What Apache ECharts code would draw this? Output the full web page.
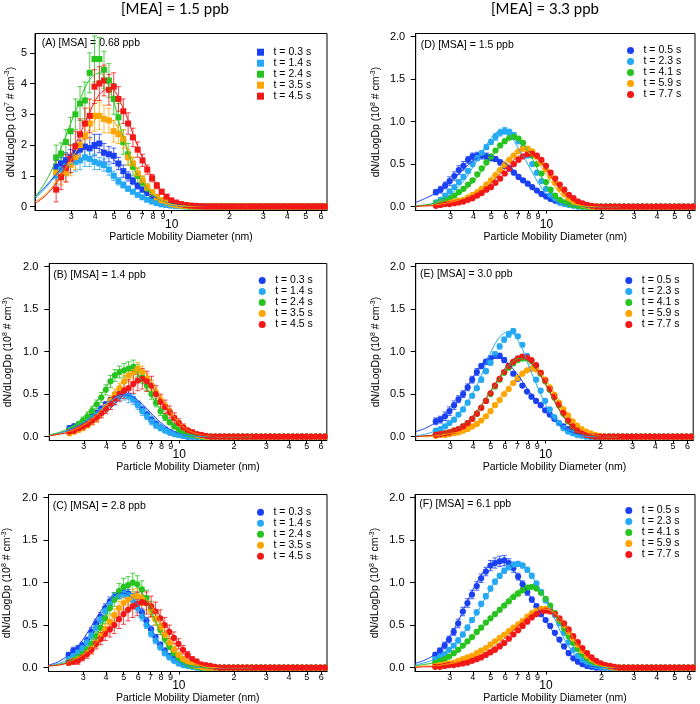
<!DOCTYPE html>
<html><head><meta charset="utf-8">
<script src="https://cdn.jsdelivr.net/npm/echarts@6/dist/echarts.min.js"></script>
<style>html,body{margin:0;padding:0;background:#fff}#c{width:700px;height:704px}</style>
</head><body><div id="c"></div>
<script>
// ---------- shared axes / categories ----------
const diam = [2.50,2.65,2.81,2.97,3.15,3.33,3.53,3.74,3.96,4.20,4.44,4.71,4.99,5.28,5.60,5.93,6.28,6.65,7.05,7.46,7.91,8.37,8.87,9.40,9.95,10.54,11.17,11.83,12.53,13.27,14.06,14.89,15.77,16.71,17.70,18.75,19.86,21.04,22.28,23.60,25.00,26.48,28.05,29.71,31.47,33.34,35.31,37.41,39.62,41.97,44.46,47.09,49.88,52.84,55.97,59.29,62.80];
const fitDiam = [1.94,2.2,2.5,2.85,3.25,3.7,4.2,4.8,5.5,6.3,7.2,8.2,9.4,10.7,12.2,14,16,18.5,21.5,25];
const xTicks = [3,4,5,6,7,8,9,10,20,30,40,50,60];
const yTicksA = [0,1,2,3,4,5];
const yTicks = [0,0.5,1,1.5,2];
const timesLeft = ['t = 0.3 s','t = 1.4 s','t = 2.4 s','t = 3.5 s','t = 4.5 s'];
const timesRight = ['t = 0.5 s','t = 2.3 s','t = 4.1 s','t = 5.9 s','t = 7.7 s'];
const colTitles = ['[MEA] = 1.5 ppb','[MEA] = 3.3 ppb'];
const panelLabels = ['(A) [MSA] = 0.68 ppb','(B) [MSA] = 1.4 ppb','(C) [MSA] = 2.8 ppb','(D) [MSA] = 1.5 ppb','(E) [MSA] = 3.0 ppb','(F) [MSA] = 6.1 ppb'];
const unitExp = ['7','8','8','8','8','8'];

// ---------- panel A (x10^7) ----------
const aV0 = [1.3,1.4,1.5,1.6,1.75,1.85,1.95,1.9,2.0,2.05, 1.75,1.7,1.65,1.4,1.15,0.98,0.83,0.67,0.55,0.44, 0.32,0.24,0.17,0.11,0.07,0.05,0.03,0.02,0.01, 0,0,0,0,0,0,0,0,0,0, 0,0,0,0,0,0,0,0,0,0, 0,0,0,0,0,0,0,0];
const aV1 = [1.0,1.2,1.3,1.4,1.45,1.5,1.6,1.55,1.45,1.4, 1.35,1.2,1.0,0.82,0.7,0.58,0.48,0.38,0.3,0.22, 0.16,0.11,0.07,0.05,0.03,0.02,0.01, 0,0,0,0,0,0,0,0,0,0, 0,0,0,0,0,0,0,0,0,0, 0,0,0,0,0,0,0,0,0,0];
const aV2 = [1.6,1.72,2.1,2.45,3.0,3.35,3.45,4.35,4.8,4.8, 4.45,4.1,3.5,2.9,2.1,1.7,1.3,1.0,0.78,0.58, 0.42,0.3,0.2,0.13,0.08,0.05,0.03,0.01, 0,0,0,0,0,0,0,0,0,0, 0,0,0,0,0,0,0,0,0,0, 0,0,0,0,0,0,0,0,0];
const aV3 = [1.1,1.0,1.1,1.35,1.6,2.0,2.3,2.7,2.95,2.95, 2.85,2.8,2.45,2.35,2.2,1.6,1.4,1.08,0.85,0.62, 0.45,0.3,0.2,0.13,0.08,0.05,0.03,0.02,0.01, 0,0,0,0,0,0,0,0,0,0, 0,0,0,0,0,0,0,0,0,0, 0,0,0,0,0,0,0,0];
const aV4 = [0.55,0.95,1.25,1.55,1.95,2.35,2.7,2.95,3.9,4.0, 4.1,3.8,3.9,3.5,3.1,2.7,2.25,1.85,1.5,1.2, 0.92,0.68,0.48,0.32,0.2,0.13,0.08,0.05,0.03,0.02, 0.01, 0,0,0,0,0,0,0,0,0,0, 0,0,0,0,0,0,0,0,0,0, 0,0,0,0,0,0];
const aE0 = [0.2,0.2,0.25,0.25,0.3,0.3,0.3,0.35,0.35,0.3,0.3,0.25,0.25,0.2,0.2,0.15,0.12,0.1,0.08,0.06,0.05,0.04,0.03];
const aE1 = [0.3,0.3,0.3,0.3,0.3,0.3,0.3,0.25,0.25,0.2,0.2,0.18,0.15,0.12,0.1,0.08,0.06,0.05,0.04,0.03,0.02];
const aE2 = [0.4,0.35,0.4,0.45,0.5,0.55,0.6,0.65,0.75,0.7,0.6,0.55,0.5,0.45,0.4,0.35,0.3,0.25,0.2,0.15,0.1,0.08,0.05,0.04,0.03];
const aE3 = [0.35,0.3,0.3,0.35,0.4,0.4,0.45,0.5,0.5,0.45,0.45,0.4,0.35,0.3,0.3,0.25,0.2,0.18,0.15,0.12,0.1,0.08,0.06,0.04];
const aE4 = [0.4,0.4,0.45,0.45,0.5,0.5,0.5,0.55,0.55,0.55,0.5,0.5,0.45,0.4,0.4,0.35,0.3,0.25,0.2,0.15,0.12,0.1,0.08,0.06,0.05];
const aF0 = [0.3,0.65,1.05,1.45,1.75,1.9,1.88,1.65,1.2,0.82,0.5,0.3,0.14,0.06,0.02,0.01,0,0,0,0];
const aF1 = [0.25,0.6,1.0,1.3,1.5,1.55,1.45,1.15,0.75,0.47,0.27,0.13,0.05,0.02,0.01,0,0,0,0,0];
const aF2 = [0.3,0.8,1.5,2.4,3.3,4.1,4.35,3.75,2.4,1.3,0.7,0.33,0.13,0.04,0.01,0,0,0,0,0];
const aF3 = [0.15,0.4,0.8,1.3,1.9,2.5,2.9,2.85,2.3,1.45,0.78,0.35,0.12,0.04,0.01,0,0,0,0,0];
const aF4 = [0.1,0.35,0.75,1.4,2.2,3.0,3.65,3.85,3.3,2.35,1.45,0.8,0.35,0.13,0.04,0.01,0,0,0,0];

// ---------- panel B (x10^8) ----------
const bV0 = [0.1,0.12,0.14,0.17,0.2,0.24,0.28,0.33,0.38,0.43, 0.47,0.5,0.5,0.48,0.44,0.38,0.32,0.26,0.2,0.15, 0.11,0.08,0.05,0.03,0.02,0.01, 0,0,0,0,0,0,0,0,0,0, 0,0,0,0,0,0,0,0,0,0, 0,0,0,0,0,0,0,0,0,0, 0];
const bV1 = [0.08,0.1,0.13,0.16,0.19,0.22,0.26,0.3,0.34,0.38, 0.43,0.47,0.5,0.47,0.44,0.37,0.3,0.24,0.18,0.13, 0.1,0.07,0.05,0.03,0.02,0.01, 0,0,0,0,0,0,0,0,0,0, 0,0,0,0,0,0,0,0,0,0, 0,0,0,0,0,0,0,0,0,0, 0];
const bV2 = [0.07,0.1,0.14,0.19,0.24,0.3,0.38,0.46,0.55,0.65, 0.72,0.76,0.78,0.8,0.82,0.78,0.7,0.6,0.5,0.4, 0.3,0.23,0.17,0.12,0.08,0.05,0.03,0.02,0.01, 0,0,0,0,0,0,0,0,0,0, 0,0,0,0,0,0,0,0,0,0, 0,0,0,0,0,0,0,0];
const bV3 = [0.04,0.06,0.08,0.11,0.14,0.18,0.22,0.28,0.35,0.42, 0.5,0.57,0.65,0.72,0.76,0.8,0.76,0.68,0.6,0.52, 0.43,0.36,0.29,0.22,0.16,0.11,0.07,0.04,0.02,0.01, 0,0,0,0,0,0,0,0,0,0, 0,0,0,0,0,0,0,0,0,0, 0,0,0,0,0,0,0];
const bV4 = [0.06,0.07,0.1,0.12,0.15,0.19,0.23,0.28,0.33,0.39, 0.45,0.5,0.54,0.57,0.62,0.66,0.68,0.65,0.6,0.5, 0.41,0.35,0.29,0.22,0.16,0.11,0.07,0.05,0.03,0.02, 0.01, 0,0,0,0,0,0,0,0,0,0, 0,0,0,0,0,0,0,0,0,0, 0,0,0,0,0,0];
const bE0 = [0.03,0.03,0.03,0.03,0.03,0.03,0.03,0.03,0.03,0.03,0.03,0.03,0.03,0.03,0.03,0.03,0.03,0.03,0.03,0.03];
const bE1 = [0.03,0.03,0.03,0.04,0.04,0.04,0.05,0.05,0.05,0.06,0.06,0.06,0.07,0.07,0.06,0.05,0.05,0.04,0.04,0.03,0.03,0.02];
const bE2 = [0.03,0.03,0.04,0.04,0.05,0.05,0.05,0.06,0.06,0.07,0.07,0.07,0.08,0.08,0.08,0.07,0.07,0.06,0.06,0.05,0.05,0.04,0.03,0.03,0.02];
const bE3 = [0.03,0.03,0.03,0.04,0.04,0.04,0.05,0.05,0.05,0.06,0.06,0.06,0.07,0.07,0.07,0.07,0.07,0.06,0.06,0.05,0.05,0.04,0.04,0.03,0.03,0.02];
const bE4 = [0.03,0.03,0.03,0.04,0.04,0.05,0.05,0.06,0.06,0.07,0.07,0.08,0.09,0.1,0.11,0.12,0.12,0.12,0.11,0.1,0.09,0.08,0.07,0.06,0.05,0.04,0.03,0.03,0.02];
const bF0 = [0.02,0.04,0.08,0.14,0.22,0.32,0.42,0.49,0.47,0.38,0.25,0.14,0.06,0.02,0.01,0,0,0,0,0];
const bF1 = [0.02,0.04,0.08,0.14,0.22,0.32,0.42,0.48,0.46,0.36,0.23,0.12,0.05,0.02,0.01,0,0,0,0,0];
const bF2 = [0.02,0.05,0.1,0.19,0.32,0.48,0.65,0.78,0.78,0.64,0.45,0.27,0.13,0.05,0.02,0.01,0,0,0,0];
const bF3 = [0.01,0.03,0.06,0.11,0.19,0.3,0.45,0.62,0.75,0.76,0.62,0.42,0.23,0.1,0.04,0.01,0,0,0,0];
const bF4 = [0.01,0.03,0.05,0.09,0.15,0.23,0.33,0.46,0.6,0.66,0.57,0.38,0.2,0.09,0.03,0.01,0,0,0,0];

// ---------- panel C (x10^8) ----------
const cV0 = [0.15,0.2,0.22,0.26,0.32,0.42,0.52,0.6,0.7,0.78, 0.83,0.86,0.88,0.87,0.82,0.75,0.65,0.55,0.45,0.36, 0.27,0.2,0.14,0.1,0.07,0.04,0.03,0.02,0.01, 0,0,0,0,0,0,0,0,0,0, 0,0,0,0,0,0,0,0,0,0, 0,0,0,0,0,0,0,0];
const cV1 = [0.1,0.14,0.18,0.23,0.3,0.38,0.47,0.57,0.67,0.75, 0.82,0.86,0.87,0.85,0.8,0.7,0.6,0.5,0.4,0.32, 0.24,0.17,0.12,0.08,0.05,0.03,0.02,0.01, 0,0,0,0,0,0,0,0,0,0, 0,0,0,0,0,0,0,0,0,0, 0,0,0,0,0,0,0,0,0];
const cV2 = [0.07,0.09,0.12,0.16,0.21,0.28,0.37,0.47,0.58,0.7, 0.8,0.9,0.95,0.97,1.0,0.98,0.92,0.82,0.7,0.57, 0.45,0.34,0.25,0.17,0.11,0.07,0.04,0.02,0.01, 0,0,0,0,0,0,0,0,0,0, 0,0,0,0,0,0,0,0,0,0, 0,0,0,0,0,0,0,0];
const cV3 = [0.06,0.08,0.1,0.13,0.17,0.22,0.29,0.37,0.45,0.54, 0.62,0.7,0.76,0.8,0.83,0.84,0.82,0.76,0.67,0.57, 0.47,0.38,0.29,0.21,0.15,0.1,0.06,0.04,0.02,0.01, 0,0,0,0,0,0,0,0,0,0, 0,0,0,0,0,0,0,0,0,0, 0,0,0,0,0,0,0];
const cV4 = [0.06,0.07,0.08,0.12,0.16,0.21,0.28,0.34,0.4,0.45, 0.5,0.57,0.63,0.68,0.72,0.75,0.77,0.76,0.72,0.66, 0.58,0.5,0.42,0.35,0.28,0.21,0.15,0.1,0.07,0.04, 0.03,0.02,0.01, 0,0,0,0,0,0,0,0,0,0, 0,0,0,0,0,0,0,0,0,0, 0,0,0,0];
const cE0 = [0.03,0.04,0.04,0.04,0.04,0.05,0.05,0.05,0.05,0.05,0.05,0.05,0.05,0.05,0.05,0.05,0.04,0.04,0.04,0.03,0.03,0.03,0.02];
const cE1 = [0.03,0.03,0.03,0.04,0.04,0.04,0.04,0.05,0.05,0.05,0.05,0.05,0.05,0.05,0.05,0.05,0.05,0.04,0.04,0.04,0.03,0.03,0.02];
const cE2 = [0.03,0.03,0.03,0.04,0.04,0.05,0.05,0.06,0.06,0.07,0.08,0.09,0.1,0.1,0.11,0.1,0.1,0.09,0.08,0.07,0.06,0.05,0.04,0.03,0.03,0.02];
const cE3 = [0.03,0.03,0.03,0.04,0.04,0.05,0.05,0.06,0.06,0.07,0.07,0.08,0.08,0.09,0.09,0.09,0.09,0.08,0.08,0.07,0.06,0.05,0.05,0.04,0.03,0.03,0.02];
const cE4 = [0.03,0.03,0.04,0.04,0.05,0.05,0.06,0.07,0.08,0.09,0.1,0.11,0.12,0.13,0.13,0.14,0.14,0.13,0.12,0.11,0.1,0.09,0.08,0.07,0.06,0.05,0.04,0.03,0.03,0.02];
const cF0 = [0.03,0.07,0.15,0.27,0.45,0.65,0.8,0.88,0.83,0.65,0.42,0.23,0.1,0.04,0.01,0,0,0,0,0];
const cF1 = [0.02,0.05,0.1,0.2,0.36,0.57,0.76,0.86,0.83,0.66,0.43,0.23,0.1,0.04,0.01,0,0,0,0,0];
const cF2 = [0.02,0.04,0.07,0.14,0.26,0.45,0.7,0.9,0.99,0.88,0.62,0.35,0.15,0.05,0.02,0,0,0,0,0];
const cF3 = [0.02,0.03,0.06,0.12,0.21,0.35,0.53,0.7,0.82,0.83,0.7,0.48,0.27,0.12,0.05,0.01,0,0,0,0];
const cF4 = [0.02,0.03,0.06,0.11,0.19,0.3,0.45,0.6,0.72,0.77,0.72,0.55,0.36,0.2,0.09,0.03,0.01,0,0,0];

// ---------- panel D (x10^8) ----------
const dV0 = [0.17,0.2,0.25,0.3,0.36,0.43,0.48,0.55,0.59,0.6, 0.6,0.59,0.57,0.56,0.52,0.48,0.45,0.4,0.35,0.31, 0.27,0.23,0.19,0.15,0.12,0.09,0.07,0.05,0.04,0.03, 0.02,0.01,0.01, 0,0,0,0,0,0,0,0,0,0, 0,0,0,0,0,0,0,0,0,0, 0,0,0,0];
const dV1 = [0.05,0.08,0.13,0.18,0.23,0.29,0.35,0.42,0.5,0.57, 0.63,0.7,0.76,0.82,0.87,0.89,0.88,0.84,0.77,0.69, 0.6,0.5,0.4,0.3,0.21,0.14,0.09,0.05,0.03,0.02, 0.01, 0,0,0,0,0,0,0,0,0,0, 0,0,0,0,0,0,0,0,0,0, 0,0,0,0,0,0];
const dV2 = [0.04,0.06,0.08,0.1,0.13,0.17,0.21,0.26,0.31,0.38, 0.45,0.52,0.59,0.66,0.72,0.77,0.81,0.82,0.8,0.75, 0.68,0.6,0.5,0.39,0.29,0.2,0.13,0.08,0.05,0.03, 0.02,0.01, 0,0,0,0,0,0,0,0,0,0, 0,0,0,0,0,0,0,0,0,0, 0,0,0,0,0];
const dV3 = [0.02,0.03,0.04,0.05,0.06,0.07,0.08,0.11,0.14,0.17, 0.21,0.26,0.31,0.37,0.43,0.49,0.55,0.6,0.65,0.68, 0.68,0.65,0.59,0.52,0.44,0.36,0.28,0.21,0.15,0.1, 0.06,0.04,0.02,0.01, 0,0,0,0,0,0,0,0,0,0, 0,0,0,0,0,0,0,0,0,0, 0,0,0];
const dV4 = [0.01,0.02,0.03,0.03,0.04,0.05,0.06,0.08,0.1,0.13, 0.16,0.2,0.23,0.28,0.33,0.39,0.45,0.5,0.55,0.59, 0.62,0.62,0.6,0.55,0.48,0.4,0.33,0.26,0.2,0.14, 0.1,0.06,0.04,0.02,0.01, 0,0,0,0,0,0,0,0,0,0, 0,0,0,0,0,0,0,0,0,0, 0,0];
const dE0 = [0.03,0.04,0.04,0.05,0.05,0.05,0.05,0.04,0.04,0.04,0.04,0.04,0.03,0.03,0.03,0.03,0.03,0.02,0.02,0.02];
const dE1 = [0.02,0.02,0.02,0.02,0.02,0.03,0.03,0.03,0.03,0.03,0.03,0.03,0.03,0.04,0.04,0.04,0.03,0.03,0.03,0.02];
const dE2 = [0.01,0.01,0.01,0.01,0.02,0.02,0.02,0.02,0.02,0.02,0.02,0.02,0.02,0.02,0.02,0.02,0.02,0.02];
const dE3 = [0.01,0.01,0.01,0.01,0.01,0.01,0.01,0.01,0.01,0.01,0.02,0.02,0.02,0.02,0.02,0.02,0.02,0.02,0.02,0.02];
const dE4 = [0.01,0.01,0.01,0.01,0.01,0.01,0.01,0.01,0.01,0.01,0.01,0.02,0.02,0.02,0.02,0.02,0.02,0.02,0.02,0.02];
const dF0 = [0.05,0.1,0.16,0.25,0.36,0.48,0.57,0.6,0.56,0.47,0.35,0.23,0.13,0.07,0.03,0.01,0,0,0,0];
const dF1 = [0.01,0.02,0.05,0.11,0.21,0.36,0.55,0.75,0.88,0.84,0.65,0.44,0.22,0.09,0.03,0.01,0,0,0,0];
const dF2 = [0.01,0.02,0.04,0.07,0.13,0.22,0.35,0.52,0.69,0.81,0.78,0.6,0.35,0.15,0.05,0.01,0,0,0,0];
const dF3 = [0,0.01,0.02,0.04,0.07,0.12,0.19,0.3,0.45,0.59,0.68,0.62,0.46,0.28,0.13,0.04,0.01,0,0,0];
const dF4 = [0,0.01,0.01,0.03,0.05,0.09,0.15,0.24,0.37,0.5,0.6,0.61,0.51,0.34,0.18,0.07,0.02,0.01,0,0];

// ---------- panel E (x10^8) ----------
const eV0 = [0.18,0.2,0.24,0.3,0.37,0.44,0.5,0.58,0.67,0.76, 0.83,0.88,0.92,0.95,0.95,0.9,0.83,0.74,0.68,0.6, 0.53,0.47,0.42,0.37,0.31,0.26,0.21,0.16,0.12,0.09, 0.06,0.04,0.02,0.01, 0,0,0,0,0,0,0,0,0,0, 0,0,0,0,0,0,0,0,0,0, 0,0,0];
const eV1 = [0.07,0.09,0.12,0.16,0.2,0.26,0.32,0.4,0.48,0.57, 0.67,0.77,0.87,0.97,1.06,1.14,1.2,1.24,1.18,1.08, 0.95,0.8,0.67,0.54,0.42,0.32,0.23,0.16,0.1,0.06, 0.04,0.02,0.01, 0,0,0,0,0,0,0,0,0,0, 0,0,0,0,0,0,0,0,0,0, 0,0,0,0];
const eV2 = [0.02,0.03,0.04,0.05,0.07,0.09,0.12,0.16,0.21,0.27, 0.34,0.42,0.5,0.59,0.67,0.75,0.81,0.86,0.9,0.92, 0.92,0.89,0.83,0.74,0.65,0.55,0.46,0.37,0.27,0.18, 0.12,0.07,0.04,0.02,0.01, 0,0,0,0,0,0,0,0,0,0, 0,0,0,0,0,0,0,0,0,0, 0,0];
const eV3 = [0.01,0.02,0.02,0.03,0.04,0.05,0.07,0.09,0.12,0.15, 0.19,0.24,0.3,0.37,0.43,0.5,0.56,0.63,0.69,0.74, 0.78,0.8,0.79,0.75,0.67,0.58,0.49,0.4,0.32,0.25, 0.18,0.13,0.09,0.06,0.04,0.02,0.01, 0,0,0,0,0,0,0,0,0,0, 0,0,0,0,0,0,0,0,0,0];
const eV4 = [0.02,0.03,0.04,0.05,0.07,0.09,0.12,0.16,0.21,0.27, 0.34,0.42,0.51,0.6,0.68,0.76,0.83,0.88,0.92,0.94, 0.93,0.9,0.84,0.75,0.66,0.56,0.47,0.38,0.28,0.19, 0.12,0.07,0.04,0.02,0.01, 0,0,0,0,0,0,0,0,0,0, 0,0,0,0,0,0,0,0,0,0, 0,0];
const eE0 = [0.04,0.04,0.05,0.05,0.05,0.04,0.04,0.04,0.04,0.04,0.03,0.03,0.03,0.03,0.03,0.03,0.03,0.02,0.02,0.02];
const eE1 = [0.02,0.02,0.02,0.02,0.02,0.02,0.02,0.02,0.02,0.02,0.03,0.03,0.03,0.03,0.03,0.03,0.03,0.03,0.02,0.02];
const eE2 = [0.01,0.01,0.01,0.01,0.01,0.01,0.01,0.01,0.01,0.01,0.01,0.01,0.01,0.01,0.01,0.01,0.01,0.01,0.01,0.01];
const eE3 = [0.01,0.01,0.01,0.01,0.01,0.01,0.01,0.01,0.01,0.01,0.01,0.01,0.01,0.01,0.01,0.01,0.01,0.01,0.01,0.01];
const eE4 = [0.01,0.01,0.01,0.01,0.01,0.01,0.01,0.01,0.01,0.01,0.01,0.01,0.01,0.01,0.01,0.01,0.01,0.01,0.01,0.01];
const eF0 = [0.06,0.1,0.17,0.27,0.4,0.58,0.77,0.92,0.95,0.85,0.7,0.52,0.36,0.23,0.12,0.05,0.02,0.01,0,0];
const eF1 = [0.01,0.03,0.07,0.14,0.24,0.4,0.6,0.9,1.15,1.24,1.1,0.8,0.5,0.26,0.11,0.04,0.01,0,0,0];
const eF2 = [0,0.01,0.02,0.05,0.09,0.17,0.29,0.47,0.66,0.84,0.92,0.87,0.71,0.49,0.27,0.1,0.03,0.01,0,0];
const eF3 = [0,0,0.01,0.03,0.05,0.09,0.16,0.27,0.42,0.59,0.73,0.8,0.74,0.58,0.38,0.2,0.08,0.02,0,0];
const eF4 = [0,0.01,0.02,0.05,0.09,0.17,0.3,0.48,0.68,0.86,0.94,0.88,0.72,0.5,0.28,0.11,0.03,0.01,0,0];

// ---------- panel F (x10^8) ----------
const fV0 = [0.15,0.2,0.26,0.33,0.42,0.52,0.66,0.76,0.86,0.96, 1.05,1.13,1.2,1.23,1.25,1.26,1.23,1.17,1.07,0.98, 0.89,0.8,0.72,0.63,0.56,0.49,0.41,0.33,0.25,0.17, 0.11,0.07,0.04,0.02,0.01, 0,0,0,0,0,0,0,0,0,0, 0,0,0,0,0,0,0,0,0,0, 0,0];
const fV1 = [0.1,0.13,0.16,0.21,0.26,0.32,0.39,0.47,0.56,0.65, 0.75,0.84,0.93,1.01,1.08,1.14,1.18,1.21,1.22,1.2, 1.15,1.08,0.99,0.89,0.79,0.7,0.62,0.52,0.41,0.3, 0.21,0.14,0.09,0.05,0.03,0.02,0.01, 0,0,0,0,0,0,0,0,0,0, 0,0,0,0,0,0,0,0,0,0];
const fV2 = [0.06,0.08,0.1,0.13,0.17,0.21,0.26,0.31,0.36,0.42, 0.47,0.53,0.58,0.63,0.68,0.73,0.78,0.83,0.87,0.91, 0.94,0.95,0.93,0.88,0.81,0.73,0.64,0.55,0.46,0.37, 0.29,0.22,0.16,0.11,0.07,0.05,0.03,0.02,0.01, 0,0,0,0,0,0,0,0,0,0, 0,0,0,0,0,0,0,0];
const fV3 = [0.02,0.03,0.04,0.05,0.06,0.08,0.1,0.12,0.14,0.17, 0.2,0.23,0.27,0.31,0.35,0.39,0.43,0.47,0.51,0.55, 0.6,0.64,0.67,0.69,0.69,0.67,0.63,0.57,0.5,0.42, 0.34,0.27,0.2,0.14,0.1,0.06,0.04,0.02,0.01, 0,0,0,0,0,0,0,0,0,0, 0,0,0,0,0,0,0,0];
const fV4 = [0.01,0.01,0.02,0.03,0.03,0.04,0.05,0.06,0.08,0.1, 0.12,0.15,0.18,0.21,0.25,0.29,0.34,0.39,0.44,0.49, 0.54,0.59,0.63,0.66,0.67,0.66,0.63,0.58,0.52,0.45, 0.37,0.3,0.23,0.17,0.12,0.08,0.05,0.03,0.02,0.01, 0,0,0,0,0,0,0,0,0,0, 0,0,0,0,0,0,0];
const fE0 = [0.03,0.03,0.04,0.04,0.04,0.05,0.05,0.05,0.05,0.05,0.05,0.05,0.06,0.06,0.06,0.06,0.05,0.05,0.04,0.04,0.04,0.03,0.03,0.03];
const fE1 = [0.02,0.02,0.02,0.02,0.02,0.03,0.03,0.03,0.03,0.03,0.03,0.03,0.03,0.03,0.03,0.03,0.03,0.03,0.03,0.03,0.03,0.03,0.02,0.02,0.02];
const fE2 = [0.02,0.02,0.02,0.02,0.02,0.02,0.02,0.02,0.02,0.02,0.02,0.02,0.02,0.02,0.02,0.02,0.02,0.02,0.02,0.02,0.02,0.02,0.02,0.02,0.02];
const fE3 = [0.01,0.01,0.01,0.01,0.01,0.01,0.01,0.01,0.01,0.01,0.01,0.01,0.01,0.01,0.01,0.01,0.01,0.01,0.01,0.01];
const fE4 = [0.01,0.01,0.01,0.01,0.01,0.01,0.01,0.01,0.01,0.01,0.01,0.01,0.01,0.01,0.01,0.01,0.01,0.01,0.01,0.01];
const fF0 = [0.05,0.09,0.16,0.3,0.5,0.76,1.0,1.18,1.25,1.22,1.03,0.84,0.63,0.45,0.27,0.12,0.04,0.01,0,0];
const fF1 = [0.03,0.06,0.1,0.18,0.3,0.46,0.64,0.86,1.07,1.19,1.21,1.1,0.9,0.66,0.39,0.18,0.07,0.02,0,0];
const fF2 = [0.02,0.04,0.06,0.11,0.18,0.28,0.4,0.54,0.68,0.82,0.92,0.95,0.88,0.71,0.48,0.26,0.11,0.03,0.01,0];
const fF3 = [0.01,0.02,0.02,0.04,0.06,0.11,0.17,0.25,0.34,0.44,0.54,0.63,0.69,0.67,0.55,0.35,0.17,0.05,0.01,0];
const fF4 = [0,0.01,0.01,0.02,0.04,0.07,0.12,0.19,0.28,0.39,0.51,0.61,0.67,0.65,0.55,0.37,0.18,0.06,0.02,0];

// ---------- assembly ----------
const panels = [
  {times: timesLeft,  vals:[aV0,aV1,aV2,aV3,aV4], errs:[aE0,aE1,aE2,aE3,aE4], fits:[aF0,aF1,aF2,aF3,aF4], yt: yTicksA},
  {times: timesLeft,  vals:[bV0,bV1,bV2,bV3,bV4], errs:[bE0,bE1,bE2,bE3,bE4], fits:[bF0,bF1,bF2,bF3,bF4], yt: yTicks},
  {times: timesLeft,  vals:[cV0,cV1,cV2,cV3,cV4], errs:[cE0,cE1,cE2,cE3,cE4], fits:[cF0,cF1,cF2,cF3,cF4], yt: yTicks},
  {times: timesRight, vals:[dV0,dV1,dV2,dV3,dV4], errs:[dE0,dE1,dE2,dE3,dE4], fits:[dF0,dF1,dF2,dF3,dF4], yt: yTicks},
  {times: timesRight, vals:[eV0,eV1,eV2,eV3,eV4], errs:[eE0,eE1,eE2,eE3,eE4], fits:[eF0,eF1,eF2,eF3,eF4], yt: yTicks},
  {times: timesRight, vals:[fV0,fV1,fV2,fV3,fV4], errs:[fE0,fE1,fE2,fE3,fE4], fits:[fF0,fF1,fF2,fF3,fF4], yt: yTicks}
];

// layout / style (kept apart from data)
const FONT = '"Liberation Sans", Arial, sans-serif';
const colors = ['#1a40f2','#25a9f4','#27c41f','#ffa500','#f21818'];
const layouts = [
  {g:{left:35,   top:33.5,  width:292,   height:177}, y:[-0.13,5.63],   dec:0, nameGap:17,   lm:8,  sym:'rect',   size:6,   leg:[257,46.7],   lab:[41.7,43.5]},
  {g:{left:49.3, top:263.5, width:277.5, height:177}, y:[-0.045,2.035], dec:1, nameGap:34,   lm:11, sym:'circle', size:6.2, leg:[258.7,275],  lab:[53.3,275]},
  {g:{left:48.5, top:494.5, width:278.5, height:177}, y:[-0.045,2.035], dec:1, nameGap:34,   lm:11, sym:'circle', size:6.2, leg:[257,506.7],  lab:[52.7,505.7]},
  {g:{left:415.7,top:33.5,  width:279.3, height:177}, y:[-0.045,2.035], dec:1, nameGap:32.5, lm:10.5, sym:'circle', size:6.2, leg:[627,45],   lab:[420.7,45]},
  {g:{left:415.7,top:263.5, width:277.5, height:177}, y:[-0.045,2.035], dec:1, nameGap:32.5, lm:10.5, sym:'circle', size:6.2, leg:[625.3,275],lab:[420,274.3]},
  {g:{left:415,  top:494.5, width:280,   height:177}, y:[-0.045,2.035], dec:1, nameGap:32.5, lm:10.5, sym:'circle', size:6.2, leg:[625.3,505],lab:[419.3,504.3]}
];

function errRender(params, api) {
  const x = api.value(0), y = api.value(1), e = api.value(2);
  const a = api.coord([x, y + e]), b = api.coord([x, y - e]);
  const hw = 2.5, st = {stroke: api.visual('color'), lineWidth: 1, opacity: 0.8};
  return {type:'group', children:[
    {type:'line', shape:{x1:a[0], y1:a[1], x2:b[0], y2:b[1]}, style:st},
    {type:'line', shape:{x1:a[0]-hw, y1:a[1], x2:a[0]+hw, y2:a[1]}, style:st},
    {type:'line', shape:{x1:b[0]-hw, y1:b[1], x2:b[0]+hw, y2:b[1]}, style:st}
  ]};
}

const grid = [], xAxis = [], yAxis = [], series = [], legend = [], graphic = [];
panels.forEach((P, i) => {
  const L = layouts[i];
  grid.push(Object.assign({show:true, borderColor:'#000', borderWidth:1, containLabel:false, outerBoundsMode:'none'}, L.g));
  xAxis.push({
    type:'log', logBase:10, gridIndex:i, min:1.94, max:64.5,
    axisLine:{show:true, onZero:false, lineStyle:{color:'#000', width:1}},
    axisTick:{show:true, inside:false, length:3, customValues:xTicks, lineStyle:{color:'#000'}},
    minorTick:{show:false}, splitLine:{show:false}, minorSplitLine:{show:false},
    axisLabel:{customValues:xTicks, margin:2, fontSize:9, color:'#000', fontFamily:FONT,
      formatter:(v)=>{ const r = Math.round(v); if (r < 10) return String(r); if (r === 10) return '{b|10}'; return String(Math.round(r/10)); },
      rich:{b:{fontSize:12, fontFamily:FONT, color:'#000', padding:[6,0,0,0]}}},
    name:'Particle Mobility Diameter (nm)', nameLocation:'middle', nameGap:20,
    nameTextStyle:{fontSize:10.5, color:'#000', fontFamily:FONT}
  });
  yAxis.push({
    type:'value', gridIndex:i, min:L.y[0], max:L.y[1],
    axisLine:{show:true, onZero:false, lineStyle:{color:'#000', width:1}},
    axisTick:{show:true, inside:false, length:5, customValues:P.yt, lineStyle:{color:'#000'}},
    splitLine:{show:false},
    axisLabel:{customValues:P.yt, margin:L.lm, fontSize:11, color:'#000', fontFamily:FONT,
      formatter:(v)=> L.dec ? Number(v).toFixed(1) : String(Math.round(v))},
    name:'{n|dN/dLogDp (10}{s|' + unitExp[i] + '}{n| # cm}{s|-3}{n|)}',
    nameLocation:'middle', nameGap:L.nameGap,
    nameTextStyle:{color:'#000', fontFamily:FONT, rich:{
      n:{fontSize:10.5, fontFamily:FONT, color:'#000', lineHeight:14},
      s:{fontSize:7, fontFamily:FONT, color:'#000', lineHeight:8, verticalAlign:'top'}}}
  });
  P.vals.forEach((vals, j) => {
    const color = colors[j];
    const errData = [];
    const ptData = [];
    diam.forEach((d, k) => {
      if (vals[k] === undefined) return;
      ptData.push([d, vals[k]]);
      if (P.errs[j][k] !== undefined) errData.push([d, vals[k], P.errs[j][k]]);
    });
    series.push({type:'custom', xAxisIndex:i, yAxisIndex:i, renderItem:errRender, data:errData,
      itemStyle:{color}, clip:true, silent:true, encode:{x:0, y:1}});
    series.push({type:'scatter', name:P.times[j], xAxisIndex:i, yAxisIndex:i, data:ptData,
      symbol:L.sym, symbolSize:L.size, itemStyle:{color, opacity:1}, silent:true, clip:true});
    series.push({type:'line', xAxisIndex:i, yAxisIndex:i, data:fitDiam.map((d,k)=>[d, P.fits[j][k]]),
      smooth:0.35, showSymbol:false, symbol:'none', lineStyle:{color, width:1}, silent:true, clip:true});
  });
  legend.push({orient:'vertical', left:L.leg[0], top:L.leg[1], padding:0, itemWidth:16, itemHeight:7, itemGap:0,
    selectedMode:false, textStyle:{fontSize:10.5, fontFamily:FONT, color:'#000', lineHeight:10},
    data:P.times.map((t,j)=>({name:t, icon: L.sym === 'rect' ? 'path://M0 0H10V10H0Z' : 'circle', itemStyle:{color:colors[j]}}))});
  graphic.push({type:'text', x:L.lab[0], y:L.lab[1], silent:true,
    style:{text:panelLabels[i], fontSize:10.5, fontFamily:FONT, fill:'#000', align:'left', verticalAlign:'middle'}});
});
graphic.push({type:'text', x:175, y:9.5, silent:true, style:{text:colTitles[0], fontSize:15, fontFamily:'Lato, "Open Sans", sans-serif', fill:'#000', align:'center', verticalAlign:'middle'}});
graphic.push({type:'text', x:545, y:9.5, silent:true, style:{text:colTitles[1], fontSize:15, fontFamily:'Lato, "Open Sans", sans-serif', fill:'#000', align:'center', verticalAlign:'middle'}});

const chart = echarts.init(document.getElementById('c'), null, {renderer:'canvas', width:700, height:704});
chart.setOption({animation:false, backgroundColor:'#fff', grid, xAxis, yAxis, series, legend, graphic});
</script>
</body></html>
